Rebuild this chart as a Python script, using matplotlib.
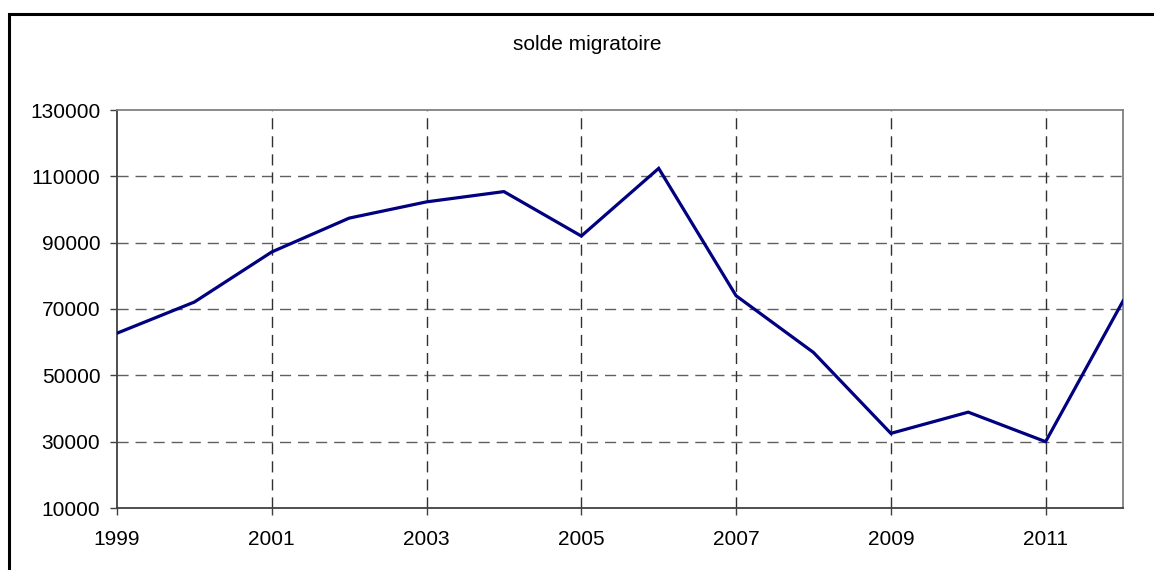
import matplotlib

matplotlib.use("Agg")

import matplotlib.pyplot as plt
from matplotlib.patches import Rectangle

plt.rcParams["font.family"] = ["Liberation Sans", "DejaVu Sans"]

years = [1999, 2000, 2001, 2002, 2003, 2004, 2005, 2006, 2007, 2008, 2009, 2010, 2011, 2012]
solde = [62700, 72100, 87200, 97400, 102300, 105400, 92000, 112400, 74000, 56900, 32500, 38900, 30000, 72400]
x_ticks = [1999, 2001, 2003, 2005, 2007, 2009, 2011]
y_ticks = [10000, 30000, 50000, 70000, 90000, 110000, 130000]
title = "solde migratoire"

W, H = 1154, 570
fig = plt.figure(figsize=(W / 100, H / 100), dpi=100)
fig.patch.set_facecolor("white")

# outer chart-area frame (runs off the right and bottom edges)
fig.patches.append(
    Rectangle((9 / W, -0.05), 1.2, 1 - 14 / H + 0.05, transform=fig.transFigure,
              fill=False, edgecolor="black", linewidth=2.2, zorder=0)
)

left, right, top, bottom = 117, 1123, 110, 508
ax = fig.add_axes([left / W, 1 - bottom / H, (right - left) / W, (bottom - top) / H])

ax.plot(years, solde, color="#000080", linewidth=2.3, zorder=3, solid_joinstyle="miter")

ax.set_xlim(1999, 2012)
ax.set_ylim(10000, 130000)
ax.set_xticks(x_ticks)
ax.set_yticks(y_ticks)
ax.tick_params(axis="both", direction="out", length=5, width=1, color="#404040",
               labelsize=15, labelcolor="black")
ax.tick_params(axis="y", pad=7)
ax.tick_params(axis="x", pad=11)

for yv in y_ticks[1:-1]:
    ax.axhline(yv, color="#606060", linewidth=1, linestyle=(0, (8, 5)), zorder=1)
for xv in x_ticks[1:]:
    ax.axvline(xv, color="#303030", linewidth=1, linestyle=(0, (8, 5)), zorder=1)

ax.spines["left"].set_color("#404040")
ax.spines["bottom"].set_color("#404040")
ax.spines["top"].set_color("#808080")
ax.spines["right"].set_color("#808080")
for s in ax.spines.values():
    s.set_linewidth(1.3)

fig.text(587 / W, 1 - 44 / H, title, ha="center", va="center", fontsize=15)

fig.savefig("out.png", dpi=100)
